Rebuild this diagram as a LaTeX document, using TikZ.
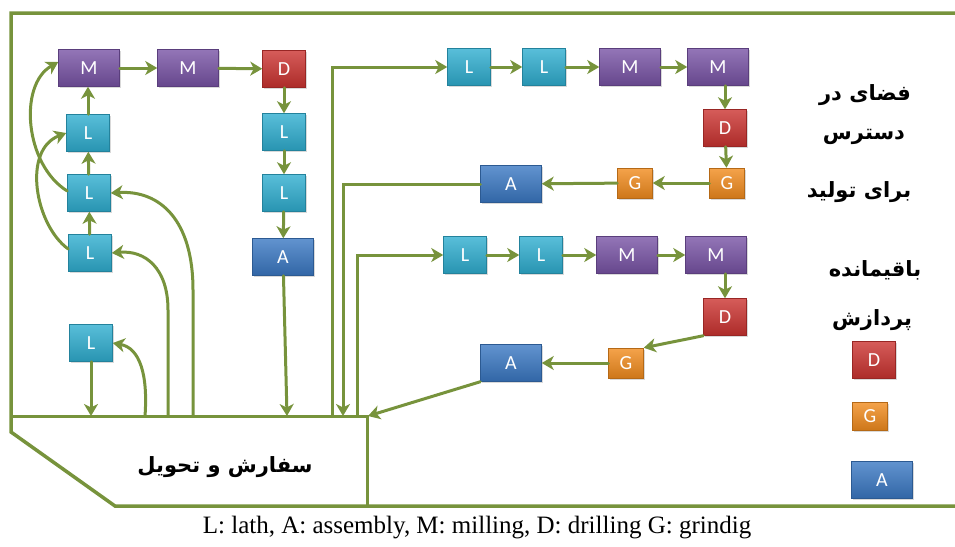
\documentclass[tikz,border=0pt]{standalone}
\usepackage{fontspec}
\setmainfont{Liberation Serif}
\newfontfamily\labfont{Carlito}
\newfontfamily\arabicfont[Script=Arabic]{DejaVu Sans}
\TeXXeTstate=1
\usetikzlibrary{arrows.meta,shadows}
\definecolor{grn}{HTML}{77933C}
\definecolor{cL}{HTML}{2FAED0}
\definecolor{cM}{HTML}{7853A5}
\definecolor{cD}{HTML}{CB3330}
\definecolor{cG}{HTML}{F28C1E}
\definecolor{cA}{HTML}{3A78C3}
\tikzset{
  proc/.style={rectangle, inner sep=0pt, minimum height=37pt, text=white,
    font=\labfont\fontsize{20}{20}\selectfont,
    draw=#1!75!black, line width=0.5pt,
    top color=#1!80!white, bottom color=#1!85!black,
    drop shadow={opacity=0.3,shadow xshift=1.5pt,shadow yshift=-1.5pt}},
  lbox/.style={proc=cL, minimum width=43pt},
  mbox/.style={proc=cM, minimum width=61pt},
  dbox/.style={proc=cD, minimum width=43pt},
  gbox/.style={proc=cG, minimum width=35pt, minimum height=30pt},
  abox/.style={proc=cA, minimum width=61pt},
  flow/.style={draw=grn, line width=3pt, line cap=round,
    -{Stealth[length=12pt,width=14pt,inset=3.5pt]}},
  frame/.style={draw=grn, line width=3.5pt, line join=miter},
  ptext/.style={font=\arabicfont\bfseries\fontsize{21}{21}\selectfont, inner sep=0pt}
}
\begin{document}
\begin{tikzpicture}[x=1pt,y=-1pt]
\useasboundingbox (0,0) rectangle (955,546);
% frame
\draw[frame] (955,13) -- (11,13) -- (11,432) -- (115,506) -- (955,506);
\draw[frame, line width=3pt] (13,416) -- (367,416) -- (367,506);
% order box text
\node[ptext] (ord) at (225,467) {\beginR سفارش و تحویل\endR};
% left part
\node[mbox] (m1) at (89,68) {M};
\node[mbox] (m2) at (188,68) {M};
\node[dbox] (d1) at (284,69) {D};
\node[lbox] (lt) at (88,133) {L};
\node[lbox] (lm) at (89,193) {L};
\node[lbox] (lb) at (90,253) {L};
\node[lbox] (r1) at (284,132) {L};
\node[lbox] (r2) at (284,193) {L};
\node[abox] (a1) at (283,257) {A};
\node[lbox] (li) at (91,343) {L};
% top right row
\node[lbox] (t1) at (469,67) {L};
\node[lbox] (t2) at (544,67) {L};
\node[mbox] (t3) at (630,67) {M};
\node[mbox] (t4) at (718,67) {M};
\node[dbox] (t5) at (725,128) {D};
\node[gbox] (t6) at (727,183) {G};
\node[gbox] (t7) at (635,183) {G};
\node[abox] (t8) at (511,184) {A};
% bottom right row
\node[lbox] (b1) at (465,255) {L};
\node[lbox] (b2) at (541,255) {L};
\node[mbox] (b3) at (627,255) {M};
\node[mbox] (b4) at (716,255) {M};
\node[dbox] (b5) at (725,317) {D};
\node[gbox] (b6) at (626,363) {G};
\node[abox] (b7) at (511,363) {A};
% legend
\node[ptext] (k1) at (865,95) {\beginR فضای در\endR};
\node[ptext] (k2) at (864,137) {\beginR دسترس\endR};
\node[ptext] (k3) at (859,192) {\beginR برای تولید\endR};
\node[ptext] (k4) at (875,270) {\beginR باقیمانده\endR};
\node[ptext] (k5) at (872,320) {\beginR پردازش\endR};
\node[dbox] (kd) at (874,360) {D};
\node[gbox, minimum height=28pt] (kg) at (870,416) {G};
\node[abox] (ka) at (882,480) {A};
% caption
\node[font=\fontsize{25}{25}\selectfont, inner sep=0pt] (cap) at (477,528) {L: lath, A: assembly, M: milling, D: drilling G: grindig};
% box top points
\coordinate (o1) at (91,416);
\coordinate (o2) at (145,416);
\coordinate (o3) at (168,416);
\coordinate (o4) at (193,416);
\coordinate (o5) at (287,416);
\coordinate (o6) at (332,416);
\coordinate (o7) at (343,416);
\coordinate (o8) at (357,416);
\coordinate (o9) at (368,416);
% left connectors
\draw[flow] (m1) -- (m2);
\draw[flow] (m2) -- (d1);
\draw[flow] (d1) -- (r1);
\draw[flow] (r1) -- (r2);
\draw[flow] (r2) -- (a1);
\draw[flow] (a1) -- (o5);
\draw[flow] (lb) -- (lm);
\draw[flow] (lm) -- (lt);
\draw[flow] (lt.north) -- (lt.north |- m1.south);
\draw[flow] (li) -- (o1);
\draw[flow] ([yshift=4pt]lb.west) .. controls (35,225) and (22,150) .. (lt.west);
\draw[flow] ([yshift=2pt]lm.west) .. controls (25,165) and (18,85) .. ([yshift=6pt]m1.west);
\draw[flow] (o4) -- (193,290) .. controls (193,220) and (160,190) .. (lm.east);
\draw[flow] (o3) -- (168,310) .. controls (168,268) and (145,250) .. (lb.east);
\draw[flow] (o2) .. controls (148,375) and (140,348) .. (li.east);
% top right connectors
\draw[flow] (o6) |- (t1);
\draw[flow] (t1) -- (t2);
\draw[flow] (t2) -- (t3);
\draw[flow] (t3) -- (t4);
\draw[flow] (t5.north |- t4.south) -- (t5.north);
\draw[flow] (t5) -- (t6);
\draw[flow] (t6) -- (t7);
\draw[flow] (t7) -- (t8);
\draw[flow] (t8.west) -| (o7);
% bottom right connectors
\draw[flow] (o8) |- (b1);
\draw[flow] (b1) -- (b2);
\draw[flow] (b2) -- (b3);
\draw[flow] (b3) -- (b4);
\draw[flow] (b5.north |- b4.south) -- (b5.north);
\draw[flow] (b5.south west) -- (b6.north east);
\draw[flow] (b6) -- (b7);
\draw[flow] (b7.south west) -- (o9);
\end{tikzpicture}
\end{document}
